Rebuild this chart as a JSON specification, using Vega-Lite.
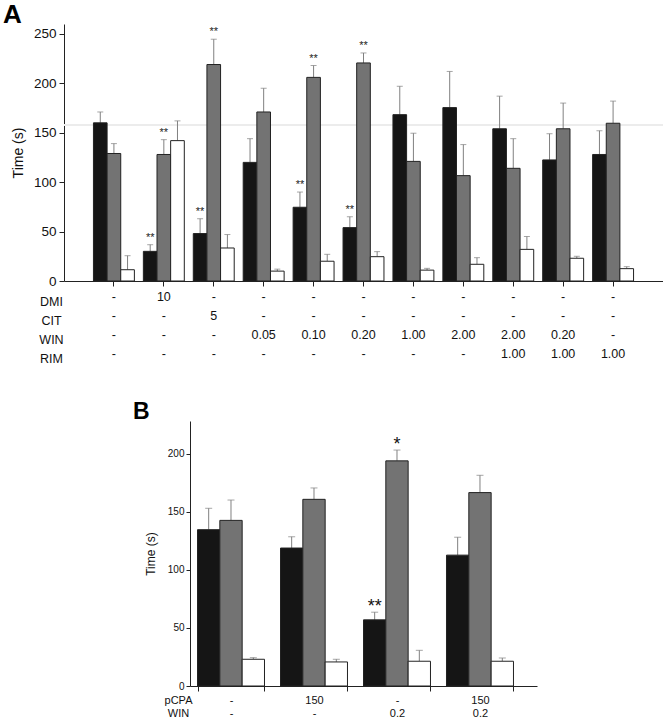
{
  "$schema": "https://vega.github.io/schema/vega-lite/v6.json",
  "padding": {"left": 3, "top": 2, "right": 0, "bottom": 0},
  "bounds": "flush",
  "center": true,
  "spacing": 140,
  "resolve": {"scale": {"xOffset": "independent"}},
  "config": {
    "font": "Liberation Sans",
    "view": {"stroke": null},
    "axis": {"grid": false, "domainColor": "#222", "tickColor": "#222", "labelColor": "#111", "titleColor": "#111", "titleFontWeight": "normal"},
    "title": {"color": "#000"}
  },
  "datasets": {
    "a": [
      {"cond": "-|-|-|-", "series": "Immobility", "mean": 160, "upper": 171, "sig": ""},
      {"cond": "-|-|-|-", "series": "Swimming", "mean": 129, "upper": 139, "sig": ""},
      {"cond": "-|-|-|-", "series": "Climbing", "mean": 11.4, "upper": 25.6, "sig": ""},
      {"cond": "10|-|-|-", "series": "Immobility", "mean": 30, "upper": 36.7, "sig": "**"},
      {"cond": "10|-|-|-", "series": "Swimming", "mean": 128, "upper": 143, "sig": "**"},
      {"cond": "10|-|-|-", "series": "Climbing", "mean": 142, "upper": 162, "sig": ""},
      {"cond": "-|5|-|-", "series": "Immobility", "mean": 48, "upper": 63, "sig": "**"},
      {"cond": "-|5|-|-", "series": "Swimming", "mean": 219, "upper": 244.6, "sig": "**"},
      {"cond": "-|5|-|-", "series": "Climbing", "mean": 33.4, "upper": 47, "sig": ""},
      {"cond": "-|-|0.05|-", "series": "Immobility", "mean": 120, "upper": 144, "sig": ""},
      {"cond": "-|-|0.05|-", "series": "Swimming", "mean": 171, "upper": 195, "sig": ""},
      {"cond": "-|-|0.05|-", "series": "Climbing", "mean": 10, "upper": 12, "sig": ""},
      {"cond": "-|-|0.10|-", "series": "Immobility", "mean": 74.6, "upper": 90, "sig": "**"},
      {"cond": "-|-|0.10|-", "series": "Swimming", "mean": 206, "upper": 218, "sig": "**"},
      {"cond": "-|-|0.10|-", "series": "Climbing", "mean": 20, "upper": 27, "sig": ""},
      {"cond": "-|-|0.20|-", "series": "Immobility", "mean": 54, "upper": 65, "sig": "**"},
      {"cond": "-|-|0.20|-", "series": "Swimming", "mean": 220.6, "upper": 230.7, "sig": "**"},
      {"cond": "-|-|0.20|-", "series": "Climbing", "mean": 24.6, "upper": 29.7, "sig": ""},
      {"cond": "-|-|1.00|-", "series": "Immobility", "mean": 168.3, "upper": 197, "sig": ""},
      {"cond": "-|-|1.00|-", "series": "Swimming", "mean": 121, "upper": 149.5, "sig": ""},
      {"cond": "-|-|1.00|-", "series": "Climbing", "mean": 11, "upper": 12.8, "sig": ""},
      {"cond": "-|-|2.00|-", "series": "Immobility", "mean": 175.4, "upper": 212, "sig": ""},
      {"cond": "-|-|2.00|-", "series": "Swimming", "mean": 106.6, "upper": 138, "sig": ""},
      {"cond": "-|-|2.00|-", "series": "Climbing", "mean": 16.9, "upper": 23.6, "sig": ""},
      {"cond": "-|-|2.00|1.00", "series": "Immobility", "mean": 154, "upper": 187, "sig": ""},
      {"cond": "-|-|2.00|1.00", "series": "Swimming", "mean": 114, "upper": 144, "sig": ""},
      {"cond": "-|-|2.00|1.00", "series": "Climbing", "mean": 32, "upper": 45, "sig": ""},
      {"cond": "-|-|0.20|1.00", "series": "Immobility", "mean": 122.5, "upper": 149, "sig": ""},
      {"cond": "-|-|0.20|1.00", "series": "Swimming", "mean": 154, "upper": 180, "sig": ""},
      {"cond": "-|-|0.20|1.00", "series": "Climbing", "mean": 23, "upper": 25, "sig": ""},
      {"cond": "-|-|-|1.00", "series": "Immobility", "mean": 128, "upper": 152, "sig": ""},
      {"cond": "-|-|-|1.00", "series": "Swimming", "mean": 159.6, "upper": 182, "sig": ""},
      {"cond": "-|-|-|1.00", "series": "Climbing", "mean": 12.5, "upper": 14.5, "sig": ""}
    ],
    "b": [
      {"cond": "-|-", "series": "Immobility", "mean": 134.5, "upper": 152.9, "sig": ""},
      {"cond": "-|-", "series": "Swimming", "mean": 142.5, "upper": 160, "sig": ""},
      {"cond": "-|-", "series": "Climbing", "mean": 23, "upper": 24.4, "sig": ""},
      {"cond": "150|-", "series": "Immobility", "mean": 118.7, "upper": 128.4, "sig": ""},
      {"cond": "150|-", "series": "Swimming", "mean": 160.6, "upper": 170.4, "sig": ""},
      {"cond": "150|-", "series": "Climbing", "mean": 20.7, "upper": 23, "sig": ""},
      {"cond": "-|0.2", "series": "Immobility", "mean": 56.9, "upper": 63.5, "sig": "**"},
      {"cond": "-|0.2", "series": "Swimming", "mean": 193.7, "upper": 203, "sig": "*"},
      {"cond": "-|0.2", "series": "Climbing", "mean": 21.3, "upper": 30.7, "sig": ""},
      {"cond": "150|0.2", "series": "Immobility", "mean": 112.6, "upper": 128, "sig": ""},
      {"cond": "150|0.2", "series": "Swimming", "mean": 166.4, "upper": 181.3, "sig": ""},
      {"cond": "150|0.2", "series": "Climbing", "mean": 21.3, "upper": 24.1, "sig": ""}
    ]
  },
  "vconcat": [
    {
      "width": 599,
      "height": 257,
      "title": {"text": "A", "anchor": "start", "frame": "group", "fontSize": 26, "fontWeight": "bold", "dx": -61, "offset": -4},
      "data": {"name": "a"},
      "encoding": {
        "x": {"field": "cond", "type": "nominal", "sort": null,
          "scale": {"paddingInner": 0.18, "paddingOuter": 0.59},
          "axis": {"title": ["DMI", "CIT", "WIN", "RIM"], "titleFontSize": 12.5, "titleLineHeight": 19, "titleX": -13, "titleY": 14, "titleAlign": "center", "titleBaseline": "top", "titleAngle": 0,
            "labelExpr": "split(datum.label, '|')", "labelAngle": 0, "labelFontSize": 12.5, "labelLineHeight": 19, "labelPadding": 4, "labelBaseline": "top", "tickSize": 5}},
        "xOffset": {"field": "series", "type": "nominal", "sort": ["Immobility", "Swimming", "Climbing"], "scale": {"paddingInner": 0, "paddingOuter": 0}}
      },
      "layer": [
        {"mark": {"type": "rule", "color": "#ededed", "strokeWidth": 1}, "encoding": {"x": null, "xOffset": null, "y": {"datum": 158, "type": "quantitative"}}},
        {"mark": {"type": "rule", "color": "#808080", "strokeWidth": 1},
          "encoding": {"y": {"field": "mean", "type": "quantitative"}, "y2": {"field": "upper"}}},
        {"mark": {"type": "tick", "orient": "horizontal", "size": 6, "thickness": 1, "color": "#808080"},
          "encoding": {"y": {"field": "upper", "type": "quantitative"}}},
        {"mark": {"type": "bar", "stroke": "#222", "strokeWidth": 1},
          "encoding": {
            "y": {"field": "mean", "type": "quantitative", "scale": {"domain": [0, 260], "nice": false},
              "axis": {"values": [0, 50, 100, 150, 200, 250], "title": "Time (s)", "titleFontSize": 14, "labelFontSize": 13.5, "tickSize": 5, "labelPadding": 3, "titlePadding": 8}},
            "fill": {"field": "series", "type": "nominal", "scale": {"domain": ["Immobility", "Swimming", "Climbing"], "range": ["#151515", "#737373", "#ffffff"]}, "legend": null}
          }},
        {"mark": {"type": "text", "baseline": "middle", "dy": -7, "fontSize": 11, "color": "#222"},
          "encoding": {"y": {"field": "upper", "type": "quantitative"}, "text": {"field": "sig"}}}
      ]
    },
    {
      "width": 347,
      "height": 265,
      "title": {"text": "B", "anchor": "start", "frame": "group", "fontSize": 23, "fontWeight": "bold", "dx": -57, "offset": -3},
      "data": {"name": "b"},
      "encoding": {
        "x": {"field": "cond", "type": "nominal", "sort": null,
          "scale": {"paddingInner": 0.193, "paddingOuter": 0.187, "align": 0.242},
          "axis": {"title": ["pCPA", "WIN"], "titleFontSize": 11, "titleLineHeight": 13, "titleX": -12, "titleY": 8, "titleAlign": "center", "titleBaseline": "top", "titleAngle": 0,
            "labelExpr": "split(datum.label, '|')", "labelAngle": 0, "labelFontSize": 11, "labelLineHeight": 13, "labelPadding": 3, "labelBaseline": "top", "tickSize": 5, "tickBand": "extent"}},
        "xOffset": {"field": "series", "type": "nominal", "sort": ["Immobility", "Swimming", "Climbing"], "scale": {"paddingInner": 0, "paddingOuter": 0}}
      },
      "layer": [
        {"mark": {"type": "rule", "color": "#808080", "strokeWidth": 1},
          "encoding": {"y": {"field": "mean", "type": "quantitative"}, "y2": {"field": "upper"}}},
        {"mark": {"type": "tick", "orient": "horizontal", "size": 7, "thickness": 1, "color": "#808080"},
          "encoding": {"y": {"field": "upper", "type": "quantitative"}}},
        {"mark": {"type": "bar", "stroke": "#222", "strokeWidth": 1},
          "encoding": {
            "y": {"field": "mean", "type": "quantitative", "scale": {"domain": [0, 228], "nice": false},
              "axis": {"values": [0, 25, 50, 75, 100, 125, 150, 175, 200, 225], "labelExpr": "datum.value % 50 === 0 ? datum.label : ''", "title": "Time (s)", "titleFontSize": 12, "labelFontSize": 10, "tickSize": 4, "labelPadding": 2, "titlePadding": 10}},
            "fill": {"field": "series", "type": "nominal", "scale": {"domain": ["Immobility", "Swimming", "Climbing"], "range": ["#151515", "#737373", "#ffffff"]},
              "legend": {"orient": "none", "legendX": 263, "legendY": -46, "title": null, "symbolType": "M-1,-1H4.6V1H-1Z", "symbolSize": 121, "symbolStrokeColor": "#222", "symbolStrokeWidth": 1, "labelFontSize": 12, "labelOffset": 25, "labelColor": "#111", "strokeColor": "#000", "fillColor": "#fff", "padding": 10, "rowPadding": 4}}
          }},
        {"mark": {"type": "text", "baseline": "middle", "dy": -5, "fontSize": 18, "color": "#111"},
          "encoding": {"y": {"field": "upper", "type": "quantitative"}, "text": {"field": "sig"}}}
      ]
    }
  ]
}
